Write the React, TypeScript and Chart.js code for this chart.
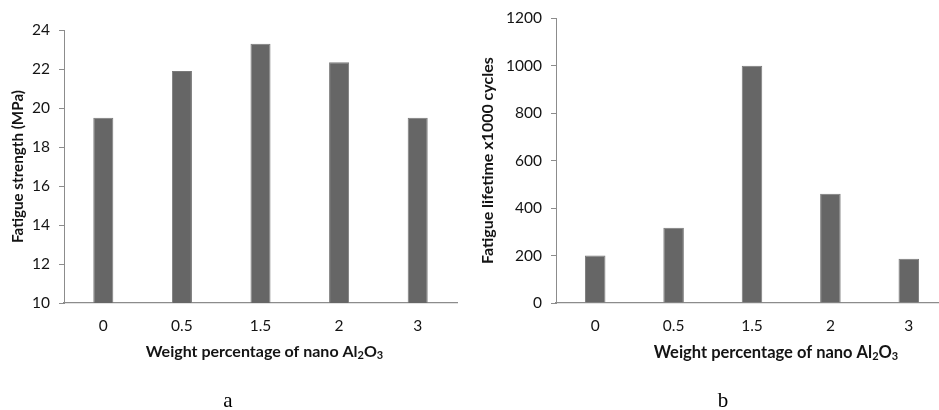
import React, { useEffect, useRef } from "react";
import { Chart, registerables } from "chart.js";

Chart.register(...registerables);

const categories = ["0", "0.5", "1.5", "2", "3"];
const strengthValues = [19.5, 21.9, 23.3, 22.35, 19.5];
const lifetimeValues = [200, 317, 1000, 460, 187];
const strengthAxis = { min: 10, max: 24, step: 2 };
const lifetimeAxis = { min: 0, max: 1200, step: 200 };
const strengthTitle = "Fatigue strength (MPa)";
const lifetimeTitle = "Fatigue lifetime x1000 cycles";
const xTitleParts = [
  { t: "Weight percentage of nano Al", sub: false },
  { t: "2", sub: true },
  { t: "O", sub: false },
  { t: "3", sub: true },
];

const FONT = "Lato";
const BAR = "#666666";
const AXIS = "#8c8c8c";
const TXT = "#141414";

const annotatePlugin = {
  id: "annot",
  afterDraw(chart: any, _args: any, opts: any) {
    const ctx = chart.ctx;
    ctx.save();
    ctx.fillStyle = TXT;
    ctx.textBaseline = "alphabetic";
    ctx.textAlign = "left";
    const big = `bold ${opts.size}px ${FONT}`;
    const small = `bold ${Math.round(opts.size * 0.66)}px ${FONT}`;
    let total = 0;
    for (const p of xTitleParts) {
      ctx.font = p.sub ? small : big;
      total += ctx.measureText(p.t).width;
    }
    let x = opts.cx - total / 2;
    for (const p of xTitleParts) {
      ctx.font = p.sub ? small : big;
      ctx.fillText(p.t, x, opts.y + (p.sub ? 1.5 : 0));
      x += ctx.measureText(p.t).width;
    }
    ctx.font = `21px "Liberation Serif"`;
    ctx.fillStyle = "#000";
    ctx.textAlign = "center";
    ctx.fillText(opts.letter, opts.lx, 407);
    ctx.restore();
  },
};

function makeConfig(
  values: number[],
  axis: { min: number; max: number; step: number },
  title: string,
  titleSize: number,
  yWidth: number,
  padTop: number,
  padRight: number,
  barPct: number,
  annot: any
): any {
  return {
    type: "bar",
    data: {
      labels: categories,
      datasets: [
        {
          data: values,
          backgroundColor: BAR,
          borderColor: "#7a7a7a",
          borderWidth: 1,
          categoryPercentage: 1,
          barPercentage: barPct,
        },
      ],
    },
    options: {
      responsive: false,
      animation: false,
      layout: { padding: { left: 0, top: padTop, right: padRight, bottom: 0 } },
      plugins: { legend: { display: false }, tooltip: { enabled: false }, annot },
      scales: {
        x: {
          grid: { display: false, drawTicks: false, tickLength: 0 },
          border: { color: AXIS, width: 1.3 },
          ticks: { color: TXT, font: { family: FONT, size: 15.5 }, padding: 13.5 },
          afterFit: (s: any) => {
            s.height = 410 - 303;
          },
        },
        y: {
          min: axis.min,
          max: axis.max,
          ticks: {
            stepSize: axis.step,
            color: TXT,
            font: { family: FONT, size: 15.5 },
            padding: 9,
            callback: (v: any) => String(v),
          },
          grid: { drawOnChartArea: false, drawTicks: true, tickLength: 5, color: AXIS },
          border: { color: AXIS, width: 1 },
          title: {
            display: true,
            text: title,
            color: TXT,
            font: { family: FONT, size: titleSize, weight: "bold" },
            padding: { top: 18 - titleSize * 0.6, bottom: 0 },
          },
          afterFit: (s: any) => {
            s.width = yWidth;
          },
        },
      },
    },
    plugins: [annotatePlugin],
  };
}

export default function App() {
  const leftRef = useRef<HTMLCanvasElement>(null);
  const rightRef = useRef<HTMLCanvasElement>(null);

  useEffect(() => {
    const c1 = new Chart(
      leftRef.current!,
      makeConfig(strengthValues, strengthAxis, strengthTitle, 15.2, 64, 30, 13, 0.255, {
        cx: 264.5,
        y: 357,
        size: 16,
        letter: "a",
        lx: 228,
      })
    );
    const c2 = new Chart(
      rightRef.current!,
      makeConfig(lifetimeValues, lifetimeAxis, lifetimeTitle, 16, 86, 18, 2, 0.262, {
        cx: 306,
        y: 358,
        size: 16.5,
        letter: "b",
        lx: 253,
      })
    );
    return () => {
      c1.destroy();
      c2.destroy();
    };
  }, []);

  return (
    <div
      style={{
        position: "absolute",
        left: 0,
        top: 0,
        width: 939,
        height: 410,
        overflow: "hidden",
        background: "#fff",
      }}
    >
      <canvas
        ref={leftRef}
        width={470}
        height={410}
        style={{ position: "absolute", left: 0, top: 0, width: 470, height: 410 }}
      />
      <canvas
        ref={rightRef}
        width={480}
        height={410}
        style={{ position: "absolute", left: 470, top: 0, width: 480, height: 410 }}
      />
    </div>
  );
}
